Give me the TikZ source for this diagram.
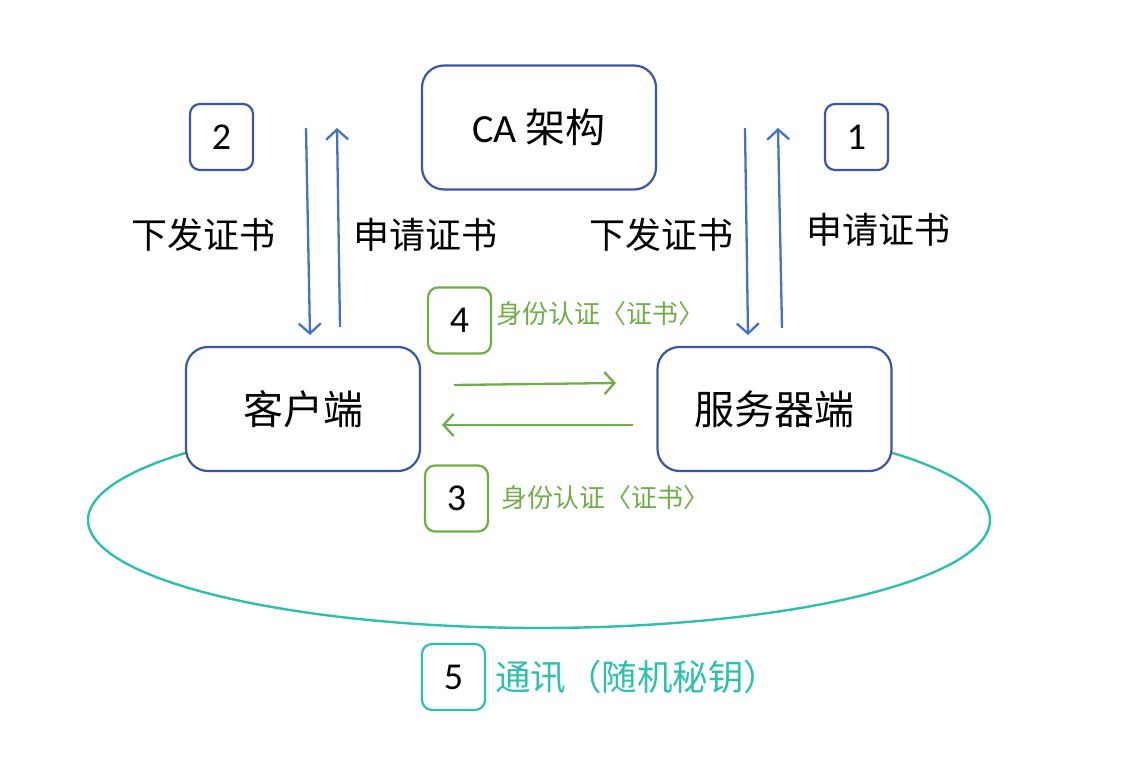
\documentclass[tikz,border=0pt]{standalone}
\usepackage{fontspec}
\setmainfont{Carlito}
\newfontfamily\cjk{Noto Sans CJK SC}
\usetikzlibrary{arrows.meta}
\definecolor{boxblue}{HTML}{3A56A5}
\definecolor{arrblue}{HTML}{4472C4}
\definecolor{grn}{HTML}{70AD47}
\definecolor{tealc}{HTML}{2EC0AE}
\begin{document}
\begin{tikzpicture}[x=1pt,y=-1pt,
  bigbox/.style={draw=boxblue,line width=2.2pt,rounded corners=22pt,fill=white,minimum width=234pt,minimum height=124pt,inner sep=0pt,font=\fontsize{40}{42}\selectfont\cjk},
  numbox/.style={rounded corners=10pt,line width=2.2pt,fill=white,minimum width=63pt,minimum height=66pt,inner sep=0pt,font=\fontsize{38}{40}\selectfont},
  lbl/.style={font=\fontsize{36}{38}\selectfont\cjk,inner sep=0pt},
  glbl/.style={font=\fontsize{26}{28}\selectfont\cjk,inner sep=0pt,text=grn,anchor=west},
  tlbl/.style={font=\fontsize{35.5}{37}\selectfont\cjk,inner sep=0pt,text=tealc,anchor=west},
  arr/.style={draw=arrblue,line width=2.3pt,-{Straight Barb[length=10pt,width=22pt,line width=2.3pt]}},
  garr/.style={draw=grn,line width=2.3pt,-{Straight Barb[length=10pt,width=22pt,line width=2.3pt]}}
]
\useasboundingbox (0,0) rectangle (1141,773);
% communication arc
\draw[tealc,line width=2.4pt] plot[domain=141:399,samples=150,smooth] ({539+451*cos(\x)},{520-108*sin(\x)});
% main boxes
\node[bigbox] (ca) at (539,127.5) {{\rmfamily CA} 架构};
\node[bigbox] (client) at (303,409) {客户端};
\node[bigbox] (server) at (774.5,409) {服务器端};
% number boxes
\node[numbox,draw=boxblue] (n2) at (221.5,137) {2};
\node[numbox,draw=boxblue] (n1) at (856.5,137) {1};
\node[numbox,draw=grn] (n4) at (459.5,320.5) {4};
\node[numbox,draw=grn] (n3) at (456.5,498.5) {3};
\node[numbox,draw=tealc] (n5) at (453.5,677) {5};
% labels
\node[lbl] (l1) at (203,235) {下发证书};
\node[lbl] (l2) at (425,235) {申请证书};
\node[lbl] (l3) at (661,235) {下发证书};
\node[lbl] (l4) at (878,230) {申请证书};
\node[glbl] (g4) at (496,314) {身份认证〈证书〉};
\node[glbl] (g3) at (501,498) {身份认证〈证书〉};
\node[tlbl] (t5) at (495,677) {通讯（随机秘钥）};
% arrow end points
\coordinate (a1s) at (306,128); \coordinate (a1e) at (310,335);
\coordinate (a2s) at (340,327); \coordinate (a2e) at (337,128);
\coordinate (a3s) at (745,128); \coordinate (a3e) at (748,335);
\coordinate (a4s) at (782,328); \coordinate (a4e) at (778,128);
\coordinate (g1s) at (454,385); \coordinate (g1e) at (616,383);
\coordinate (g2s) at (633,425); \coordinate (g2e) at (442,425);
\draw[arr] (a1s) -- (a1e);
\draw[arr] (a2s) -- (a2e);
\draw[arr] (a3s) -- (a3e);
\draw[arr] (a4s) -- (a4e);
\draw[garr] (g1s) -- (g1e);
\draw[garr] (g2s) -- (g2e);
\end{tikzpicture}
\end{document}
